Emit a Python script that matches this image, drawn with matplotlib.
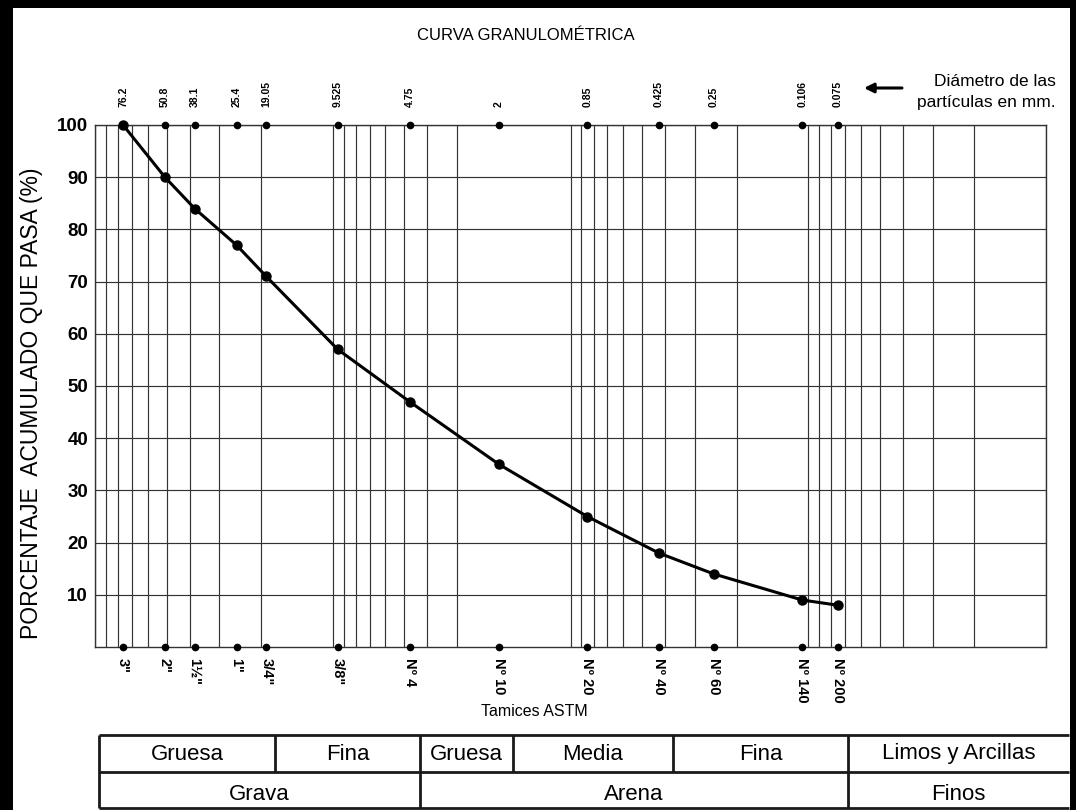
import numpy as np
import matplotlib
matplotlib.use("Agg")
import matplotlib.pyplot as plt
from matplotlib.ticker import LogLocator, NullFormatter, FixedLocator
from matplotlib.patches import Rectangle

# Sieve openings (mm) and cumulative percent passing
diam_mm = [76.2, 50.8, 38.1, 25.4, 19.05, 9.525, 4.75, 2.0, 0.85, 0.425, 0.25, 0.106, 0.075]
pct_pasa = [100, 90, 84, 77, 71, 57, 47, 35, 25, 18, 14, 9, 8]
diam_labels = ["76.2", "50.8", "38.1", "25.4", "19.05", "9.525", "4.75", "2",
               "0.85", "0.425", "0.25", "0.106", "0.075"]
tamiz_labels = ['3"', '2"', '1½"', '1"', '3/4"', '3/8"', 'Nº 4', 'Nº 10',
                'Nº 20', 'Nº 40', 'Nº 60', 'Nº 140', 'Nº 200']
y_ticks = [10, 20, 30, 40, 50, 60, 70, 80, 90, 100]

plt.rcParams["font.family"] = ["Liberation Sans", "DejaVu Sans"]

W, H = 1076, 810
fig = plt.figure(figsize=(W / 100, H / 100), dpi=100)
fig.patch.set_facecolor("white")

L, R, T, B = 95, 1046, 125, 647
ax = fig.add_axes([L / W, 1 - B / H, (R - L) / W, (B - T) / H])
ax.set_xscale("log")
ax.set_xlim(100, 0.01)
ax.set_ylim(0, 100)

grid_c = "#333333"
# log grid on x (minor ticks carry the grid), linear grid on y
ax.xaxis.set_minor_locator(LogLocator(base=10, subs=np.arange(1, 10), numticks=100))
ax.xaxis.set_minor_formatter(NullFormatter())
ax.grid(which="minor", axis="x", color=grid_c, lw=0.85)
ax.set_yticks(y_ticks)
ax.grid(which="major", axis="y", color=grid_c, lw=0.85)
ax.tick_params(axis="x", which="minor", length=0)
for s in ax.spines.values():
    s.set_color(grid_c)
    s.set_linewidth(1.0)

# bottom axis: ASTM sieve names
ax.xaxis.set_major_locator(FixedLocator(diam_mm))
ax.set_xticklabels(tamiz_labels, rotation=-90, fontsize=10.5, fontweight="bold",
                   va="top", ha="center")
ax.tick_params(axis="x", which="major", length=0, pad=8)
ax.tick_params(axis="y", length=0, pad=5, labelsize=13.5)
for t in ax.get_yticklabels():
    t.set_fontweight("bold")

# top axis: opening in mm
sec = ax.secondary_xaxis("top")
sec.set_xticks(diam_mm)
sec.set_xticklabels(diam_labels, rotation=90, fontsize=7.5, fontweight="bold",
                    va="bottom", ha="center")
sec.tick_params(axis="x", which="both", length=0, pad=13)
sec.xaxis.set_minor_locator(FixedLocator([]))
sec.spines["top"].set_visible(False)

# sieve markers on the top and bottom edges
ax.plot(diam_mm, [100] * len(diam_mm), "o", color="black", ms=4.5, clip_on=False, zorder=5)
ax.plot(diam_mm, [0] * len(diam_mm), "o", color="black", ms=4.5, clip_on=False, zorder=5)

# grading curve
ax.plot(diam_mm, pct_pasa, "-o", color="black", lw=2.2, ms=6.5, clip_on=False, zorder=6)

# text around the chart
fig.text(526 / W, 1 - 35 / H, "CURVA GRANULOMÉTRICA", ha="center", va="center",
         fontsize=12)
fig.text(32 / W, 1 - 403 / H, "PORCENTAJE  ACUMULADO QUE PASA (%)", rotation=90,
         ha="center", va="center", fontsize=16.5)
fig.text(534 / W, 1 - 712 / H, "Tamices ASTM", ha="center", va="center",
         fontsize=11.5)
fig.text(1056 / W, 1 - 82 / H, "Diámetro de las", ha="right", va="center",
         fontsize=12.5)
fig.text(1056 / W, 1 - 102 / H, "partículas en mm.", ha="right", va="center",
         fontsize=12.5)

# overlay in pixel units for arrow, table and frame
ov = fig.add_axes([0, 0, 1, 1], zorder=10)
ov.set_xlim(0, W)
ov.set_ylim(H, 0)
ov.axis("off")
ov.patch.set_alpha(0)
ov.annotate("", xy=(864, 88), xytext=(902, 88),
            arrowprops=dict(arrowstyle="-|>", color="black", lw=2.2,
                            mutation_scale=14, shrinkA=0, shrinkB=0))

# classification table
tx0, tx1, ty0, ty1, ty2 = 99, 1069, 735, 772, 808
tl = dict(color="#1a1a1a", lw=2.0, solid_capstyle="butt")
ov.plot([tx0, tx1], [ty0, ty0], **tl)
ov.plot([tx0, tx1], [ty1, ty1], **tl)
ov.plot([tx0, tx1], [ty2, ty2], **tl)
ov.plot([tx0, tx0], [ty0, ty2], **tl)
row1_edges = [99, 275, 420, 513, 673, 848, 1069]
row1_names = ["Gruesa", "Fina", "Gruesa", "Media", "Fina", "Limos y Arcillas"]
row2_edges = [99, 420, 848, 1069]
row2_names = ["Grava", "Arena", "Finos"]
for x in row1_edges[1:-1]:
    ov.plot([x, x], [ty0, ty1], **tl)
for x in row2_edges[1:-1]:
    ov.plot([x, x], [ty1, ty2], **tl)
for a, b, name in zip(row1_edges[:-1], row1_edges[1:], row1_names):
    ov.text((a + b) / 2, 754, name, ha="center", va="center", fontsize=16)
for a, b, name in zip(row2_edges[:-1], row2_edges[1:], row2_names):
    ov.text((a + b) / 2, 795, name, ha="center", va="center", fontsize=16)

# black scanner frame
for (x, y, w, h) in [(0, 0, 13, H), (0, 0, W, 8), (W - 6, 0, 6, H)]:
    ov.add_patch(Rectangle((x, y), w, h, color="black", lw=0))

fig.savefig("out.png", dpi=100)
